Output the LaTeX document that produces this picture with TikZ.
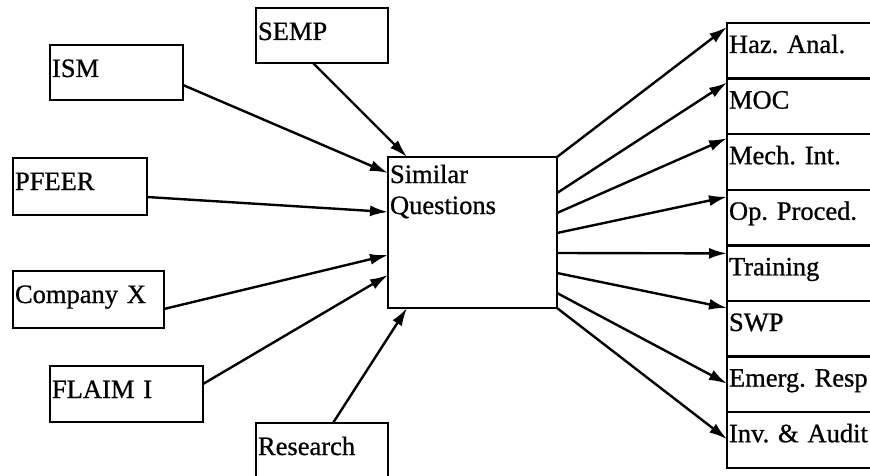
\documentclass[tikz,border=0pt]{standalone}
\usepackage{fontspec}
\setmainfont{Liberation Serif}[FakeBold=0.8]
\usetikzlibrary{arrows.meta, positioning}
\frenchspacing
\tikzset{
  srcbox/.style={rectangle, draw, line width=2.4pt, outer sep=0pt,
                 inner xsep=2pt, inner ysep=0pt, anchor=north west,
                 text width=#1, text height=32pt, text depth=23pt,
                 align=left, font=\fontsize{26.5}{31}\selectfont},
  topicbox/.style={srcbox=150pt, text height=30pt, text depth=25.6pt, anchor=north},
  qbox/.style={srcbox=165pt, text height=26pt, text depth=125pt},
}

\begin{document}
\begin{tikzpicture}[
        x=1pt, y=-1pt,
        arr/.style={-{Latex[length=18pt,width=11pt]}, line width=2.4pt},
        node distance=0pt
      ]
        \useasboundingbox (0,0) rectangle (870,476);
        % sources
        \node[srcbox=128pt] (semp) at (256,8) {SEMP};
        \node[srcbox=129pt] (ism) at (50,45) {ISM};
        \node[srcbox=130pt, text depth=25pt] (pfeer) at (13,158) {PFEER};
        \node[srcbox=147pt, text depth=25pt] (compx) at (13,271) {Company X};
        \node[srcbox=149pt, text depth=24pt] (flaim) at (50,366) {FLAIM I};
        \node[srcbox=128pt, text depth=45pt] (research) at (256,423) {Research};
        % center
        \node[qbox] (simq) at (388,157) {Similar\\Questions};
        % topics
        \node[topicbox, anchor=north west] (haz) at (727,23) {Haz. Anal.};
        \node[topicbox, below=of haz] (moc) {MOC};
        \node[topicbox, below=of moc] (mech) {Mech. Int.};
        \node[topicbox, below=of mech] (opproc) {Op. Proced.};
        \node[topicbox, below=of opproc] (train) {Training};
        \node[topicbox, below=of train] (swp) {SWP};
        \node[topicbox, below=of swp] (emerg) {Emerg. Resp};
        \node[topicbox, below=of emerg] (invaud) {Inv. \& Audit};
        % into similar questions
        \draw[arr] ([xshift=57pt]semp.south west) -- ([xshift=19pt]simq.north west);
        \draw[arr] ([yshift=-40pt]ism.north east) -- ([yshift=-16pt]simq.north west);
        \draw[arr] ([yshift=-39pt]pfeer.north east) -- ([yshift=-55pt]simq.north west);
        \draw[arr] ([yshift=-38pt]compx.north east) -- ([yshift=-98pt]simq.north west);
        \draw[arr] ([yshift=-18pt]flaim.north east) -- ([yshift=-118pt]simq.north west);
        \draw[arr] ([xshift=77pt]research.north west) -- ([xshift=19pt]simq.south west);
        % out of similar questions
        \draw[arr] (simq.north east) -- ([yshift=-4pt]haz.north west);
        \draw[arr] ([yshift=-36pt]simq.north east) -- ([yshift=-4pt]moc.north west);
        \draw[arr] ([yshift=-56pt]simq.north east) -- ([yshift=-4pt]mech.north west);
        \draw[arr] ([yshift=-76pt]simq.north east) -- ([yshift=-7pt]opproc.north west);
        \draw[arr] ([yshift=-96pt]simq.north east) -- ([yshift=-8pt]train.north west);
        \draw[arr] ([yshift=-116pt]simq.north east) -- ([yshift=-7pt]swp.north west);
        \draw[arr] ([yshift=-136pt]simq.north east) -- ([yshift=-27pt]emerg.north west);
        \draw[arr] (simq.south east) -- ([yshift=-27pt]invaud.north west);
      \end{tikzpicture}
\end{document}
